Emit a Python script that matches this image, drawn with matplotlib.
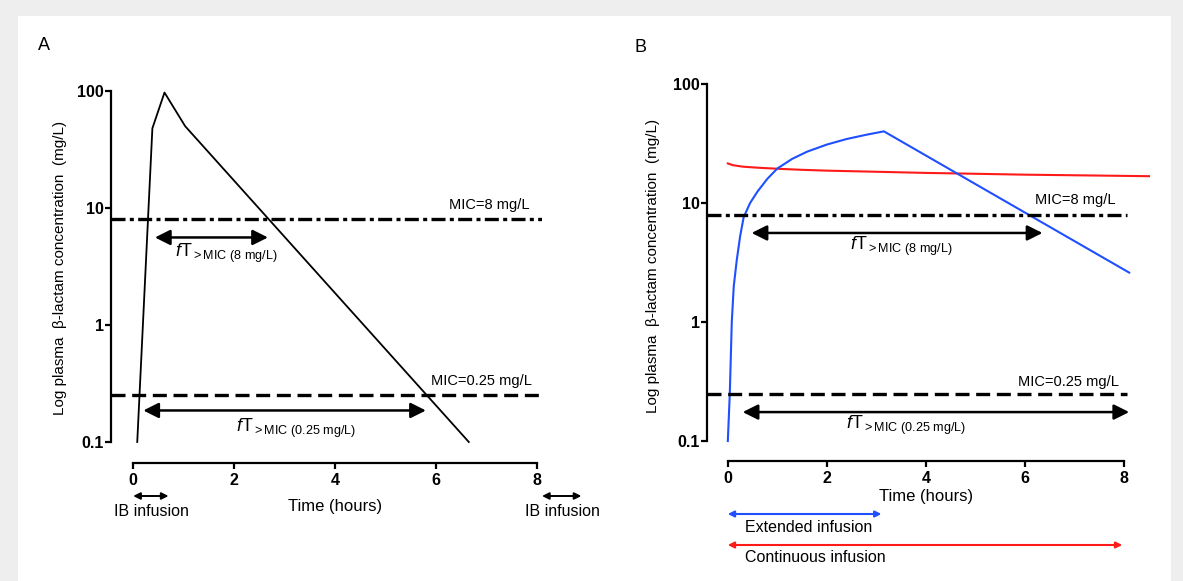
import matplotlib
matplotlib.use("Agg")
import matplotlib.pyplot as plt
from matplotlib.patches import Rectangle
from matplotlib.transforms import blended_transform_factory

plt.rcParams['font.family'] = ['Liberation Sans', 'DejaVu Sans']
plt.rcParams['mathtext.fontset'] = 'custom'
plt.rcParams['mathtext.rm'] = 'Liberation Sans'
plt.rcParams['mathtext.it'] = 'Liberation Sans:italic'

# ---------------- data ----------------
# Panel A: intermittent bolus
a_time = [0.08, 0.38, 0.62, 1.03, 6.65]
a_conc = [0.1, 48, 97, 50, 0.1]

# Panel B: extended infusion (blue) and continuous infusion (red)
b_ext_time = [0.0, 0.04, 0.08, 0.12, 0.18, 0.25, 0.32, 0.45, 0.6, 0.8, 1.0, 1.3,
              1.6, 2.0, 2.4, 2.8, 3.15, 8.1]
b_ext_conc = [0.1, 0.25, 1.0, 2.0, 3.3, 5.3, 7.6, 10.0, 12.5, 16.0, 19.5, 23.5,
              27.0, 31.0, 34.5, 37.5, 40.0, 2.6]
b_cont_time = [0.0, 0.1, 0.3, 0.6, 1.0, 1.5, 2.0, 3.0, 4.0, 5.0, 6.0, 7.0, 8.0, 8.5]
b_cont_conc = [21.5, 20.8, 20.2, 19.8, 19.4, 19.0, 18.7, 18.3, 17.9, 17.6, 17.3, 17.1, 16.9, 16.8]

mic_values = [8, 0.25]
mic_labels = ['MIC=8 mg/L', 'MIC=0.25 mg/L']
ytick_vals = [0.1, 1, 10, 100]
ytick_labels = ['0.1', '1', '10', '100']
xtick_vals = [0, 2, 4, 6, 8]

# fT arrows (start, end) in hours
a_ft = [(0.43, 2.67), (0.2, 5.8)]
b_ft = [(0.48, 6.35), (0.3, 8.1)]

W, H = 1183, 581
fig = plt.figure(figsize=(W / 100, H / 100), dpi=100)
fig.patch.set_facecolor('#eeeeee')
fig.patches.append(Rectangle((18 / W, 0), (1171 - 18) / W, 1 - 16 / H,
                             transform=fig.transFigure, facecolor='white',
                             edgecolor='none', zorder=-5))

PX2PT = 72 / 100
DASHDOT = (4.2, 1.3, 1.2, 1.3)
DASHED = (4.2, 2.0)


def px_axes(l, t, r, b):
    return fig.add_axes([l / W, 1 - b / H, (r - l) / W, (b - t) / H])


def fy(y):
    return 1 - y / H


def setup(ax, xlim, outward_px):
    ax.set_facecolor('none')
    ax.set_yscale('log')
    ax.set_ylim(0.1, 100)
    ax.set_xlim(*xlim)
    for s in ['top', 'right']:
        ax.spines[s].set_visible(False)
    ax.spines['left'].set_linewidth(1.6)
    ax.spines['bottom'].set_linewidth(1.6)
    ax.spines['bottom'].set_position(('outward', outward_px * PX2PT))
    ax.spines['bottom'].set_bounds(0, 8)
    ax.set_yticks(ytick_vals)
    ax.set_yticklabels(ytick_labels)
    ax.yaxis.set_minor_locator(matplotlib.ticker.NullLocator())
    ax.set_xticks(xtick_vals)
    ax.set_xticklabels([str(v) for v in xtick_vals])
    ax.tick_params(length=4.5, width=1.6, labelsize=11.5)
    ax.tick_params(axis='y', pad=0.5)
    ax.tick_params(axis='x', pad=2.5)
    for lab in ax.get_xticklabels() + ax.get_yticklabels():
        lab.set_fontweight('bold')


def ft_arrow(ax, x0, x1, y):
    ax.annotate('', xy=(x1, y), xytext=(x0, y),
                arrowprops=dict(arrowstyle='<|-|>', color='black', lw=1.8,
                                mutation_scale=23, shrinkA=0, shrinkB=0),
                annotation_clip=False)


def small_arrow(ax, tr, x0, x1, y, color, lw=1.4, ms=10):
    ax.annotate('', xy=(x1, y), xytext=(x0, y), xycoords=tr, textcoords=tr,
                arrowprops=dict(arrowstyle='<|-|>', color=color, lw=lw,
                                mutation_scale=ms, shrinkA=0, shrinkB=0),
                annotation_clip=False)


ylabel = 'Log plasma  \u03b2-lactam concentration  (mg/L)'
ft8 = r'$\it{f}$T$_{\rm >MIC\ (8\ mg/L)}$'
ft025 = r'$\it{f}$T$_{\rm >MIC\ (0.25\ mg/L)}$'

# ---------------- Panel A ----------------
axA = px_axes(111, 91, 542, 442)
setup(axA, (-0.44, 8.1), 21)
axA.plot(a_time, a_conc, color='black', lw=1.3, clip_on=False)
axA.axhline(mic_values[0], color='black', lw=2.4, dashes=DASHDOT)
axA.axhline(mic_values[1], color='black', lw=2.4, dashes=DASHED)
axA.text(7.85, 10.6, mic_labels[0], ha='right', va='center', fontsize=10.5)
axA.text(7.9, 0.33, mic_labels[1], ha='right', va='center', fontsize=10.5)
ft_arrow(axA, a_ft[0][0], a_ft[0][1], 5.6)
ft_arrow(axA, a_ft[1][0], a_ft[1][1], 0.186)
axA.text(1.85, 4.1, ft8, ha='center', va='center', fontsize=13)
axA.text(3.23, 0.13, ft025, ha='center', va='center', fontsize=13)
trA = blended_transform_factory(axA.transData, fig.transFigure)
axA.text(4.0, fy(506), 'Time (hours)', transform=trA, ha='center', va='center', fontsize=12)
small_arrow(axA, trA, 0.0, 0.7, fy(496), 'black')
small_arrow(axA, trA, 8.1, 8.88, fy(496), 'black')
axA.text(0.37, fy(512), 'IB infusion', transform=trA, ha='center', va='center', fontsize=11.5)
axA.text(8.5, fy(512), 'IB infusion', transform=trA, ha='center', va='center', fontsize=11.5)
fig.text(60 / W, fy(268), ylabel, rotation=90, ha='center', va='center', fontsize=11)
fig.text(44 / W, fy(45), 'A', ha='center', va='center', fontsize=13)

# ---------------- Panel B ----------------
axB = px_axes(707, 84, 1149, 441)
setup(axB, (-0.42, 8.5), 20)
axB.plot(b_cont_time, b_cont_conc, color='#ff1a1a', lw=1.5, clip_on=False)
axB.plot(b_ext_time, b_ext_conc, color='#1f4fff', lw=1.5, clip_on=False)
axB.plot([-0.42, 8.05], [mic_values[0]] * 2, color='black', lw=2.4, dashes=DASHDOT)
axB.plot([-0.42, 8.05], [mic_values[1]] * 2, color='black', lw=2.4, dashes=DASHED)
axB.text(7.83, 10.6, mic_labels[0], ha='right', va='center', fontsize=10.5)
axB.text(7.9, 0.313, mic_labels[1], ha='right', va='center', fontsize=10.5)
ft_arrow(axB, b_ft[0][0], b_ft[0][1], 5.6)
ft_arrow(axB, b_ft[1][0], b_ft[1][1], 0.175)
axB.text(3.5, 4.3, ft8, ha='center', va='center', fontsize=13)
axB.text(3.6, 0.135, ft025, ha='center', va='center', fontsize=13)
trB = blended_transform_factory(axB.transData, fig.transFigure)
axB.text(4.0, fy(497), 'Time (hours)', transform=trB, ha='center', va='center', fontsize=12)
small_arrow(axB, trB, 0.0, 3.1, fy(514), '#1f4fff', lw=1.5, ms=9)
axB.text(0.34, fy(528), 'Extended infusion', transform=trB, ha='left', va='center', fontsize=11.5)
small_arrow(axB, trB, 0.0, 7.96, fy(545), '#ff1a1a', lw=1.5, ms=9)
axB.text(0.34, fy(557), 'Continuous infusion', transform=trB, ha='left', va='center', fontsize=11.5)
fig.text(653 / W, fy(266), ylabel, rotation=90, ha='center', va='center', fontsize=11)
fig.text(641 / W, fy(48), 'B', ha='center', va='center', fontsize=13)

fig.savefig('out.png', dpi=100, facecolor=fig.get_facecolor())
